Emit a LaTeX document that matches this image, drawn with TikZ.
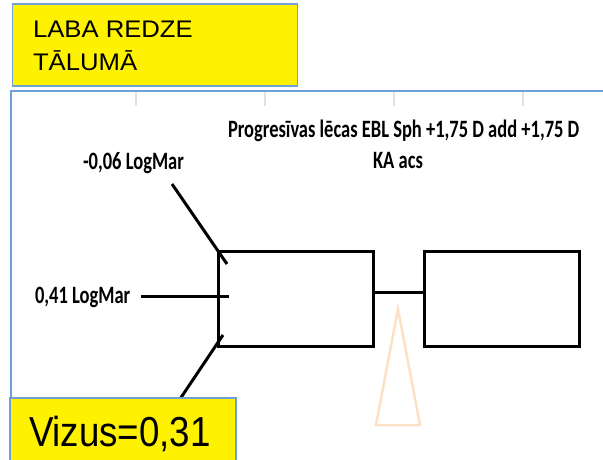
\documentclass[tikz,border=0pt]{standalone}
\usepackage{fontspec}
\setmainfont{Liberation Sans}
\newfontfamily\calib{Carlito}
\usepackage{graphicx}
\usetikzlibrary{calc}
\definecolor{frameblue}{RGB}{110,160,215}
\definecolor{tickgray}{RGB}{225,225,225}
\definecolor{peach}{RGB}{253,225,198}
\begin{document}
\begin{tikzpicture}[x=1pt,y=-1pt,
  lbl/.style={inner sep=0pt, outer sep=0pt, anchor=base west, font=\calib\bfseries\fontsize{18.5}{22}\selectfont},
  ybox/.style={draw=frameblue, line width=1.5pt, fill=yellow, inner sep=0pt, outer sep=0pt, anchor=north west},
  lens/.style={draw=black, line width=3pt, minimum width=155pt, minimum height=95pt, inner sep=0pt, outer sep=0pt, anchor=north west},
  lead/.style={line width=3pt, draw=black},
  tick/.style={draw=tickgray, line width=1.2pt},
  big/.style={inner sep=0pt, outer sep=0pt, anchor=base west}]
\useasboundingbox (0,0) rectangle (603,460);
% frame
\draw[frameblue, line width=2pt] (11,462) -- (11,91) -- (606,91);
\foreach \x in {136,265,394,523}{\draw[tick] (\x,92) -- (\x,106);}
% lenses
\node[lens] (L) at (218,251) {};
\node[lens] (R) at (424,251) {};
\draw[lead] ($(L.north east)!0.432!(L.south east)$) -- ($(R.north west)!0.432!(R.south west)$);
% labels
\node[lbl] (top) at (83,169) {\scalebox{1}[1.35]{-0,06 LogMar}};
\node[lbl] (mid) at (35,303) {\scalebox{1}[1.35]{0,41 LogMar}};
\node[lbl] (title) at (228,138) {\scalebox{1}[1.35]{Progresīvas lēcas EBL Sph +1,75 D add +1,75 D}};
\node[lbl, anchor=base] (ka) at (398,168) {\scalebox{1}[1.35]{KA acs}};
% leaders
\coordinate (a1) at (172,184);
\coordinate (a2) at (227,264);
\coordinate (b1) at (141,296);
\coordinate (b2) at (229,296);
\coordinate (c1) at (176,405);
\coordinate (c2) at (223,335);
\draw[lead] (a1) -- (a2);
\draw[lead] (b1) -- (b2);
\draw[lead] (c1) -- (c2);
% triangle
\draw[peach, line width=2.5pt, line join=miter] (398,309) -- (420,425) -- (376,425) -- cycle;
% yellow boxes
\node[ybox, minimum width=285pt, minimum height=82pt] (hdr) at (12.7,4) {};
\node[big, font=\fontsize{24}{28}\selectfont] (h1) at (33,38) {\scalebox{1.07}[1]{LABA REDZE}};
\node[big, font=\fontsize{24}{28}\selectfont] (h2) at (33,71) {\scalebox{1.07}[1]{TĀLUMĀ}};
\node[ybox, minimum width=226pt, minimum height=70pt] (vbox) at (10,398) {};
\node[big, font=\fontsize{41.9}{46}\selectfont] (vz) at (29,446) {\scalebox{0.875}[1]{Vizus=0,31}};
\end{tikzpicture}
\end{document}
